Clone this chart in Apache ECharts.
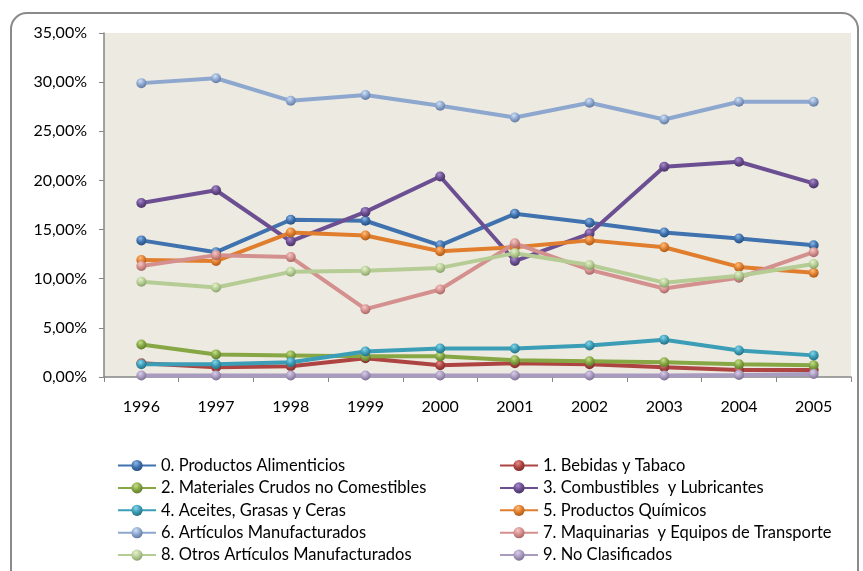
<!DOCTYPE html>
<html>
<head>
<meta charset="utf-8">
<script src="https://cdn.jsdelivr.net/npm/echarts@6/dist/echarts.min.js"></script>
<style>html,body{margin:0;padding:0;background:#fff}#c{width:863px;height:571px}</style>
</head>
<body>
<div id="c"></div>
<script>
var years = ['1996','1997','1998','1999','2000','2001','2002','2003','2004','2005'];
var seriesNames = [
  '0. Productos Alimenticios',
  '1. Bebidas y Tabaco',
  '2. Materiales Crudos no Comestibles',
  '3. Combustibles  y Lubricantes',
  '4. Aceites, Grasas y Ceras',
  '5. Productos Químicos',
  '6. Artículos Manufacturados',
  '7. Maquinarias  y Equipos de Transporte',
  '8. Otros Artículos Manufacturados',
  '9. No Clasificados'
];
var alimenticios = [13.9, 12.7, 16.0, 15.9, 13.4, 16.6, 15.7, 14.7, 14.1, 13.4];
var bebidas      = [1.4, 1.0, 1.1, 1.9, 1.2, 1.4, 1.3, 1.0, 0.7, 0.7];
var materiales   = [3.3, 2.3, 2.2, 2.1, 2.1, 1.7, 1.6, 1.5, 1.3, 1.2];
var combustibles = [17.7, 19.0, 13.8, 16.8, 20.4, 11.8, 14.6, 21.4, 21.9, 19.7];
var aceites      = [1.3, 1.3, 1.5, 2.6, 2.9, 2.9, 3.2, 3.8, 2.7, 2.2];
var quimicos     = [11.9, 11.8, 14.7, 14.4, 12.8, 13.2, 13.9, 13.2, 11.2, 10.6];
var manufact     = [29.9, 30.4, 28.1, 28.7, 27.6, 26.4, 27.9, 26.2, 28.0, 28.0];
var maquinarias  = [11.3, 12.4, 12.2, 6.9, 8.9, 13.6, 10.9, 9.0, 10.1, 12.7];
var otros        = [9.7, 9.1, 10.7, 10.8, 11.1, 12.6, 11.4, 9.6, 10.3, 11.5];
var noClasif     = [0.15, 0.15, 0.15, 0.15, 0.15, 0.15, 0.15, 0.15, 0.2, 0.3];
var yTicks = [0, 5, 10, 15, 20, 25, 30, 35];

var allData = [alimenticios, bebidas, materiales, combustibles, aceites, quimicos, manufact, maquinarias, otros, noClasif];
var lineColors = ['#3F72AE','#AE4442','#86A744','#6C4F92','#3C9DB6','#E07E2E','#8DA7CF','#D4908E','#B6CC95','#A99ABF'];
var lightColors = ['#8FB8E8','#E58F8C','#C5E08A','#A88CCB','#86D6EA','#FFBE7F','#D2E1F5','#F5C8C6','#E4F2CC','#D8CDEA'];
var darkColors = ['#264B78','#762A28','#5A7527','#45305F','#226B7D','#A4561A','#5C7399','#A0605E','#829C63','#76698C'];

var chart = echarts.init(document.getElementById('c'), null, {renderer:'canvas'});
var series = allData.map(function(d, i){
  return {
    name: seriesNames[i],
    type: 'line',
    data: d,
    symbol: 'circle',
    symbolSize: 10,
    lineStyle: {width: 4, color: lineColors[i]},
    itemStyle: {
      color: new echarts.graphic.RadialGradient(0.4, 0.3, 0.75, [
        {offset: 0, color: lightColors[i]},
        {offset: 0.5, color: lineColors[i]},
        {offset: 1, color: darkColors[i]}
      ]),
      borderWidth: 0
    },
    emphasis: {disabled: true},
    animation: false
  };
});
var font = 'Lato, "Open Sans", sans-serif';
var legends = seriesNames.map(function(n, i){
  var col = i % 2, row = Math.floor(i / 2);
  return {
    data: [n],
    left: col === 0 ? 117 : 499,
    top: 457 + row * 22.4,
    itemWidth: 38, itemHeight: 14,
    padding: 0,
    textStyle: {color: '#000', fontSize: 16.5, fontFamily: font},
    selectedMode: false
  };
});
var option = {
  animation: false,
  graphic: [{
    type: 'rect',
    shape: {x: 11, y: 13, width: 847, height: 600, r: 16},
    style: {fill: 'none', stroke: '#8A8A8A', lineWidth: 2},
    z: -10
  }],
  grid: {left: 104, right: 12, top: 33, bottom: 194, show: true, backgroundColor: '#EDEBE1', borderWidth: 0},
  xAxis: {
    type: 'category',
    data: years,
    boundaryGap: true,
    axisLine: {lineStyle: {color: '#868686', width: 1.5}},
    axisTick: {show: true, length: 5, lineStyle: {color: '#868686'}},
    axisLabel: {color: '#000', fontSize: 16, fontFamily: font, margin: 22}
  },
  yAxis: {
    type: 'value',
    min: 0, max: 35, interval: 5,
    splitLine: {show: false},
    axisLine: {show: true, lineStyle: {color: '#868686', width: 1.5}},
    axisTick: {show: true, length: 5, lineStyle: {color: '#868686'}},
    axisLabel: {
      color: '#000', fontSize: 16, fontFamily: font, margin: 17,
      formatter: function(v){ return yTicks.indexOf(v) >= 0 ? v.toFixed(2).replace('.', ',') + '%' : ''; }
    }
  },
  legend: legends,
  series: series
};
chart.setOption(option);
</script>
</body>
</html>
